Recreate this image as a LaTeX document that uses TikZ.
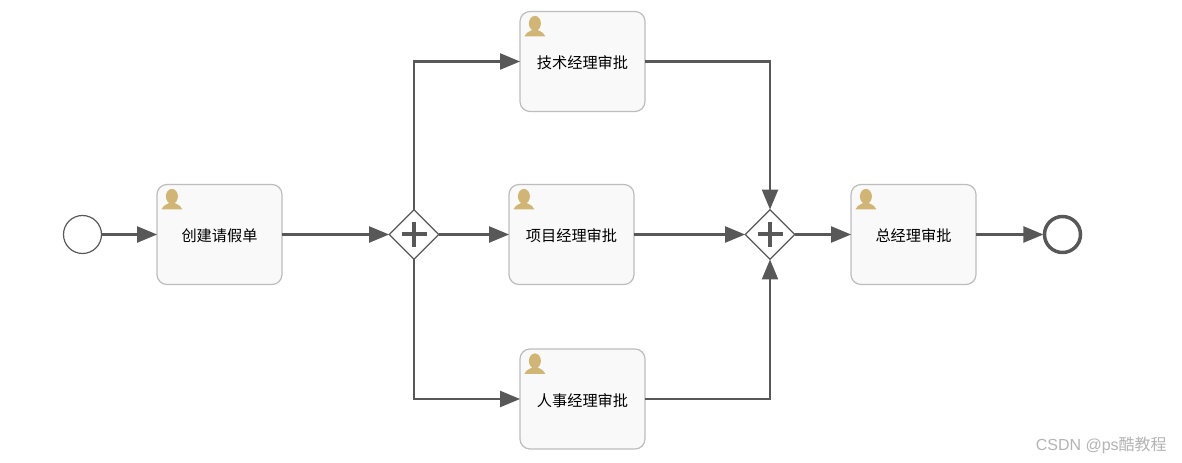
\documentclass[tikz,border=0pt]{standalone}
\usepackage{fontspec}
\setmainfont{Liberation Sans}
\newfontfamily\cjk{Noto Sans CJK SC}
\usetikzlibrary{arrows.meta,shapes.geometric}
\definecolor{linec}{HTML}{585858}
\definecolor{boxline}{HTML}{BDBDBD}
\definecolor{boxfill}{HTML}{F9F9F9}
\definecolor{iconc}{HTML}{D1B574}
\definecolor{markc}{HTML}{B4B4B4}
\newcommand{\tasklabel}[1]{\raisebox{-5.4pt}[0pt][0pt]{#1}}
\tikzset{
  taskbox/.style={draw=boxline,fill=boxfill,line width=0.9pt,rounded corners=7.5pt,minimum width=93.75pt,minimum height=75pt,inner sep=0pt,font=\cjk\fontsize{11.4}{13}\selectfont,text=black},
  gatebox/.style={diamond,aspect=1,draw=linec,fill=white,line width=0.9pt,minimum width=37.5pt,minimum height=37.5pt,inner sep=0pt},
  startev/.style={circle,draw=linec,fill=white,line width=0.9pt,minimum size=28.5pt,inner sep=0pt},
  endev/.style={circle,draw=linec,fill=white,line width=2.6pt,minimum size=27pt,inner sep=0pt},
  flow/.style={draw=linec,line width=1.7pt,-{Triangle[length=15pt,width=12pt,fill=linec]},shorten >=-0.5pt,shorten <=-0.6pt},
  plusmark/.pic={\draw[linec,line width=3pt] (-12.5,0)--(12.5,0) (0,-12.5)--(0,12.5);},
  personmark/.pic={\fill[iconc] (15.5,12.5) ellipse (6 and 7.5);
    \fill[iconc] (12.5,16) rectangle (18.5,21);
    \fill[iconc] (5,25.5) .. controls (6,22.5) and (8,21.5) .. (13,19) -- (18,19) .. controls (23,21.5) and (25,22.5) .. (26,25.5) -- cycle;},
}
\begin{document}
\begin{tikzpicture}[x=0.75pt,y=-0.75pt]
\useasboundingbox (0,0) rectangle (1182,463);
\fill[white] (0,0) rectangle (1182,463);
\node[startev] (start) at (82.5,234.5) {};
\node[taskbox] (t1) at (219.5,234.5) {\tasklabel{创建请假单}};
\node[gatebox] (g1) at (414,234.5) {};
\node[taskbox] (t2) at (582.5,61.5) {\tasklabel{技术经理审批}};
\node[taskbox] (t3) at (571.5,234.5) {\tasklabel{项目经理审批}};
\node[taskbox] (t4) at (582.5,399) {\tasklabel{人事经理审批}};
\node[gatebox] (g2) at (770,234.5) {};
\node[taskbox] (t5) at (913.5,234.5) {\tasklabel{总经理审批}};
\node[endev] (stop) at (1062.5,234.5) {};
\node[anchor=east,text=markc,font=\fontsize{12}{14}\selectfont,inner sep=0pt] (mark) at (1167,445.5) {CSDN @ps{\cjk 酷教程}};
\pic at (g1.center) {plusmark};
\pic at (g2.center) {plusmark};
\foreach \n in {t1,t2,t3,t4,t5} \pic at (\n.north west) {personmark};
\draw[flow] (start) -- (t1);
\draw[flow] (t1) -- (g1);
\draw[flow] (g1) -- (t3);
\draw[flow] (t3) -- (g2);
\draw[flow] (g2) -- (t5);
\draw[flow] (t5) -- (stop);
\draw[flow] (g1.north) |- (t2.west);
\draw[flow] (g1.south) |- (t4.west);
\draw[flow] (t2.east) -| (g2.north);
\draw[flow] (t4.east) -| (g2.south);
\end{tikzpicture}
\end{document}
